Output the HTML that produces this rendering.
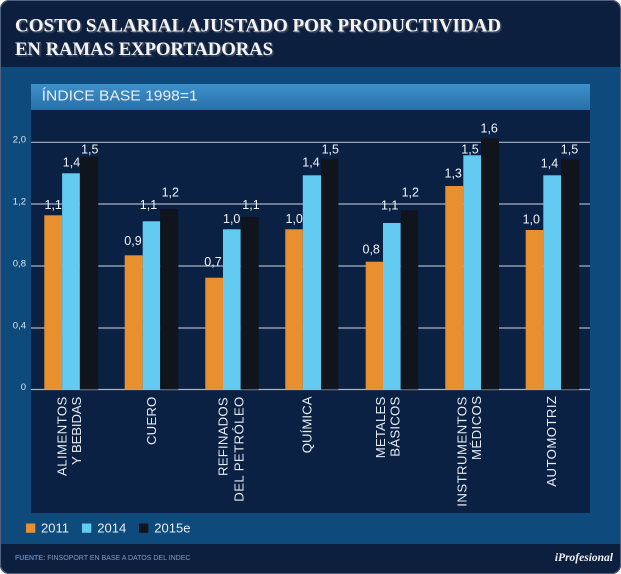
<!DOCTYPE html>
<html>
<head>
<meta charset="utf-8">
<style>
  html,body{margin:0;padding:0;background:#ffffff;}
  svg{display:block;}
  .t{font-family:"Liberation Serif",serif;font-weight:bold;font-size:18.8px;fill:#f3f3f3;}
  .v{font-family:"Liberation Sans",sans-serif;font-size:12.5px;fill:#eef3f8;text-anchor:middle;}
  .ax{font-family:"Liberation Sans",sans-serif;font-size:9.5px;fill:#dde4ee;text-anchor:end;}
  .c{font-family:"Liberation Sans",sans-serif;font-size:13.2px;fill:#e6ecf3;}
  .lg{font-family:"Liberation Sans",sans-serif;font-size:13px;fill:#e8eef5;}
</style>
</head>
<body>
<svg width="621" height="574" viewBox="0 0 621 574" xmlns="http://www.w3.org/2000/svg">
  <defs>
    <clipPath id="card"><rect x="0" y="0" width="621" height="574" rx="9" ry="9"/></clipPath>
    <linearGradient id="sub" x1="0" y1="0" x2="0" y2="1">
      <stop offset="0" stop-color="#3d91ca"/>
      <stop offset="1" stop-color="#2a6fa8"/>
    </linearGradient>
    <filter id="sh" x="-5%" y="-20%" width="110%" height="150%">
      <feDropShadow dx="1.4" dy="1.4" stdDeviation="0.4" flood-color="#4a5268" flood-opacity="1"/>
    </filter>
  </defs>
  <g clip-path="url(#card)">
    <rect x="0" y="0" width="621" height="574" fill="#0c1f3f"/>
    <rect x="0" y="67" width="621" height="477" fill="#0f4a7c"/>
    <rect x="0" y="544" width="621" height="30" fill="#0c1f3f"/>
  </g>
  <rect x="0.5" y="0.5" width="620" height="573" rx="9" ry="9" fill="none" stroke="#52627e" stroke-width="1"/>

  <!-- Title -->
  <g filter="url(#sh)">
    <text class="t" x="15" y="31.7" textLength="486" lengthAdjust="spacingAndGlyphs">COSTO SALARIAL AJUSTADO POR PRODUCTIVIDAD</text>
    <text class="t" x="15" y="55" textLength="258" lengthAdjust="spacingAndGlyphs">EN RAMAS EXPORTADORAS</text>
  </g>

  <!-- Subtitle bar -->
  <rect x="31" y="84" width="559" height="26" fill="url(#sub)"/>
  <text x="41.7" y="100.5" font-family="Liberation Sans, sans-serif" font-size="14.8" fill="#e8eef5" textLength="156" lengthAdjust="spacingAndGlyphs">ÍNDICE BASE 1998=1</text>

  <!-- Plot panel -->
  <rect x="31" y="110" width="559" height="403" fill="#0b2144"/>

  <!-- Gridlines -->
  <g stroke="#aab3c2" stroke-width="1.2">
    <line x1="31" y1="142.3" x2="590" y2="142.3"/>
    <line x1="31" y1="204" x2="590" y2="204"/>
    <line x1="31" y1="266" x2="590" y2="266"/>
    <line x1="31" y1="328" x2="590" y2="328"/>
    <line x1="31" y1="389.5" x2="590" y2="389.5"/>
  </g>

  <!-- Axis labels -->
  <text class="ax" x="26" y="142.5">2,0</text>
  <text class="ax" x="26" y="204.5">1,2</text>
  <text class="ax" x="26" y="266.5">0,8</text>
  <text class="ax" x="26" y="328.5">0,4</text>
  <text class="ax" x="26" y="390">0</text>

  <!-- Bars -->
  <g>
    <rect x="44.3" y="215.3" width="17.8" height="174.2" fill="#e88f30"/>
    <rect x="62.1" y="173.3" width="17.8" height="216.2" fill="#63cbf1"/>
    <rect x="79.9" y="156.7" width="18.4" height="232.8" fill="#10141d"/>

    <rect x="124.7" y="255.3" width="18" height="134.2" fill="#e88f30"/>
    <rect x="142.7" y="221.3" width="17.5" height="168.2" fill="#63cbf1"/>
    <rect x="160.2" y="209" width="18.2" height="180.5" fill="#10141d"/>

    <rect x="205.3" y="277.7" width="17.7" height="111.8" fill="#e88f30"/>
    <rect x="223" y="229.3" width="17.7" height="160.2" fill="#63cbf1"/>
    <rect x="240.7" y="217" width="18" height="172.5" fill="#10141d"/>

    <rect x="285.3" y="229.3" width="17.5" height="160.2" fill="#e88f30"/>
    <rect x="302.8" y="175.3" width="18.2" height="214.2" fill="#63cbf1"/>
    <rect x="321" y="159" width="17.4" height="230.5" fill="#10141d"/>

    <rect x="365.7" y="261.7" width="17.3" height="127.8" fill="#e88f30"/>
    <rect x="383" y="223" width="17.7" height="166.5" fill="#63cbf1"/>
    <rect x="400.7" y="210.3" width="17.6" height="179.2" fill="#10141d"/>

    <rect x="445.3" y="186" width="18" height="203.5" fill="#e88f30"/>
    <rect x="463.3" y="155.3" width="17.7" height="234.2" fill="#63cbf1"/>
    <rect x="481" y="138.3" width="18" height="251.2" fill="#10141d"/>

    <rect x="525.7" y="230" width="17.6" height="159.5" fill="#e88f30"/>
    <rect x="543.3" y="175.3" width="17.7" height="214.2" fill="#63cbf1"/>
    <rect x="561" y="159" width="18.3" height="230.5" fill="#10141d"/>
  </g>

  <!-- Value labels -->
  <g>
    <text class="v" x="53.2" y="209">1,1</text>
    <text class="v" x="71.5" y="166.7">1,4</text>
    <text class="v" x="89.8" y="153.3">1,5</text>

    <text class="v" x="133" y="245">0,9</text>
    <text class="v" x="148.5" y="209">1,1</text>
    <text class="v" x="170.3" y="196.7">1,2</text>

    <text class="v" x="213" y="266">0,7</text>
    <text class="v" x="231.7" y="223">1,0</text>
    <text class="v" x="251" y="209">1,1</text>

    <text class="v" x="294.2" y="223">1,0</text>
    <text class="v" x="311" y="166.7">1,4</text>
    <text class="v" x="330.3" y="153.3">1,5</text>

    <text class="v" x="371.2" y="253.3">0,8</text>
    <text class="v" x="389.7" y="209.3">1,1</text>
    <text class="v" x="410.3" y="196.7">1,2</text>

    <text class="v" x="453.2" y="177.3">1,3</text>
    <text class="v" x="470" y="153.3">1,5</text>
    <text class="v" x="489.2" y="132.7">1,6</text>

    <text class="v" x="531.3" y="223.3">1,0</text>
    <text class="v" x="549.5" y="167.3">1,4</text>
    <text class="v" x="569.5" y="153.3">1,5</text>
  </g>

  <!-- Category labels (rotated) -->
  <g>
    <text class="c" transform="translate(66.7,476) rotate(-90)" textLength="79.3" lengthAdjust="spacing">ALIMENTOS</text>
    <text class="c" transform="translate(81,465) rotate(-90)" textLength="68.3" lengthAdjust="spacing">Y BEBIDAS</text>
    <text class="c" transform="translate(156,445) rotate(-90)" textLength="48.3" lengthAdjust="spacing">CUERO</text>
    <text class="c" transform="translate(227.7,476) rotate(-90)" textLength="78.7" lengthAdjust="spacing">REFINADOS</text>
    <text class="c" transform="translate(243.3,501.7) rotate(-90)" textLength="105" lengthAdjust="spacing">DEL PETRÓLEO</text>
    <text class="c" transform="translate(311.7,453.3) rotate(-90)" textLength="56.8" lengthAdjust="spacing">QUÍMICA</text>
    <text class="c" transform="translate(385,458.3) rotate(-90)" textLength="61.6" lengthAdjust="spacing">METALES</text>
    <text class="c" transform="translate(399.5,456.7) rotate(-90)" textLength="60" lengthAdjust="spacing">BÁSICOS</text>
    <text class="c" transform="translate(466.5,506.7) rotate(-90)" textLength="110" lengthAdjust="spacing">INSTRUMENTOS</text>
    <text class="c" transform="translate(481,460) rotate(-90)" textLength="64" lengthAdjust="spacing">MÉDICOS</text>
    <text class="c" transform="translate(556,486.7) rotate(-90)" textLength="90.7" lengthAdjust="spacing">AUTOMOTRIZ</text>
  </g>

  <!-- Legend -->
  <rect x="26" y="523.5" width="9.3" height="9.3" fill="#e88f30"/>
  <text class="lg" x="41" y="532.7">2011</text>
  <rect x="82" y="523.5" width="9.3" height="9.3" fill="#63cbf1"/>
  <text class="lg" x="97.3" y="532.7">2014</text>
  <rect x="139" y="523.5" width="9.3" height="9.3" fill="#10141d"/>
  <text class="lg" x="154.3" y="532.7">2015e</text>

  <!-- Footer -->
  <text x="15" y="560" font-family="Liberation Sans, sans-serif" font-size="7" fill="#4a86c8"><tspan font-weight="bold">FUENTE:</tspan><tspan fill="#7f9cc0"> FINSOPORT EN BASE A DATOS DEL INDEC</tspan></text>
  <text x="613" y="561" text-anchor="end" font-family="Liberation Serif, serif" font-style="italic" font-weight="bold" font-size="11.5" fill="#f2f2f2">iProfesional</text>
</svg>
</body>
</html>
